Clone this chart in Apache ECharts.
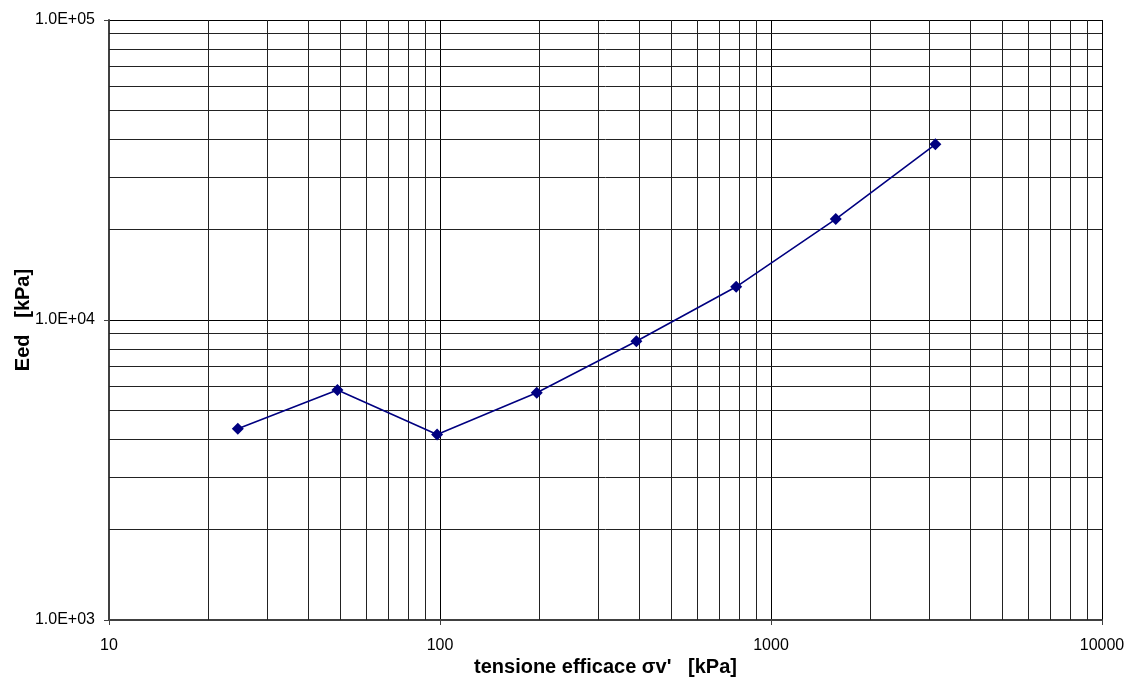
<!DOCTYPE html>
<html>
<head>
<meta charset="utf-8">
<script src="https://cdn.jsdelivr.net/npm/echarts@6/dist/echarts.min.js"></script>
<style>
  html, body { margin: 0; padding: 0; background: #fff; }
  #chart { width: 1128px; height: 678px; }
</style>
</head>
<body>
<div id="chart"></div>
<script>
// Effective vertical stress steps (kPa) and oedometric modulus (kPa)
const stressKPa = [24.5, 49, 98, 196, 392, 785, 1569, 3138];
const eedKPa = [4340, 5840, 4150, 5720, 8500, 12900, 21700, 38500];

// Axis decades
const xDecades = [10, 100, 1000, 10000];
const yDecades = [1000, 10000, 100000];

// Intermediate gridlines at 2..9 within each decade
function minorLines(decades) {
  const out = [];
  for (let i = 0; i < decades.length - 1; i++) {
    for (let k = 2; k <= 9; k++) out.push(decades[i] * k);
  }
  return out;
}
const xMinor = minorLines(xDecades);
const yMinor = minorLines(yDecades);

const font = 'Liberation Sans, Arial, sans-serif';
const chart = echarts.init(document.getElementById('chart'));

chart.setOption({
  animation: false,
  backgroundColor: '#fff',
  grid: { left: 109, right: 26, top: 20, bottom: 58, containLabel: false, outerBoundsMode: 'none' },
  xAxis: {
    type: 'log',
    logBase: 10,
    min: xDecades[0],
    max: xDecades[xDecades.length - 1],
    name: "tensione efficace σv'   [kPa]",
    nameLocation: 'middle',
    nameGap: 37,
    nameMoveOverlap: false,
    nameTextStyle: { fontFamily: font, fontSize: 20, fontWeight: 'bold', color: '#000' },
    axisLine: { show: true, lineStyle: { color: '#404040', width: 2 } },
    axisTick: { show: true, inside: false, length: 5, lineStyle: { color: '#404040' } },
    axisLabel: { fontFamily: font, fontSize: 16, color: '#000', margin: 18,
      formatter: v => String(Math.round(v)) },
    splitLine: { show: true, lineStyle: { color: '#000', width: 1 } },
    minorTick: { show: false },
    minorSplitLine: { show: false }
  },
  yAxis: {
    type: 'log',
    logBase: 10,
    min: yDecades[0],
    max: yDecades[yDecades.length - 1],
    name: 'Eed   [kPa]',
    nameLocation: 'middle',
    nameRotate: 90,
    nameGap: 76,
    nameMoveOverlap: false,
    nameTextStyle: { fontFamily: font, fontSize: 20, fontWeight: 'bold', color: '#000' },
    axisLine: { show: true, lineStyle: { color: '#404040', width: 2 } },
    axisTick: { show: true, inside: false, length: 5, lineStyle: { color: '#404040' } },
    axisLabel: { fontFamily: font, fontSize: 16, color: '#000', margin: 14,
      formatter: v => '1.0E+0' + Math.round(Math.log10(v)) },
    splitLine: { show: true, lineStyle: { color: '#000', width: 1 } },
    minorTick: { show: false },
    minorSplitLine: { show: false }
  },
  series: [
    {
      type: 'line',
      data: stressKPa.map((x, i) => [x, eedKPa[i]]),
      symbol: 'diamond',
      symbolSize: 12,
      showAllSymbol: true,
      lineStyle: { color: '#000080', width: 1.6 },
      itemStyle: { color: '#000080' },
      z: 5,
      markLine: {
        silent: true,
        symbol: ['none', 'none'],
        label: { show: false },
        animation: false,
        lineStyle: { color: '#222', width: 1, type: 'solid' },
        data: xMinor.map(v => ({ xAxis: v })).concat(yMinor.map(v => ({ yAxis: v })))
      }
    }
  ]
});
</script>
</body>
</html>
